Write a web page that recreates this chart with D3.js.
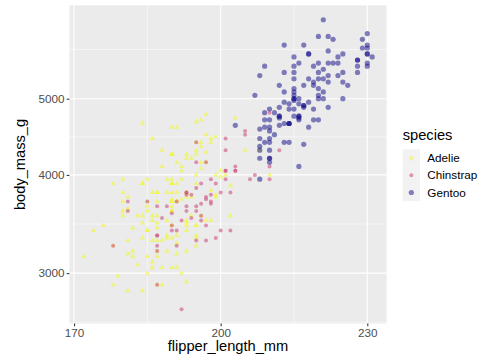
<!DOCTYPE html>
<html><head><meta charset="utf-8">
<script src="https://cdn.jsdelivr.net/npm/d3@7"></script>
<style>body{margin:0;background:#fff}svg{display:block}text{font-family:"Liberation Sans",Arial,Helvetica,sans-serif}</style>
</head><body><svg id="c" width="504" height="360"></svg>
<script>
const species = ["Adelie","Chinstrap","Gentoo"];
const adelieFlipper = [181,186,195,193,190,181,195,193,190,186,180,182,191,198,185,195,197,184,194,174,180,189,185,180,187,183,187,172,180,178,178,188,184,195,196,190,180,181,184,182,195,186,196,185,190,182,179,190,191,186,188,190,200,187,191,186,193,181,194,185,195,185,192,184,192,195,188,190,198,190,190,196,197,190,195,191,184,187,195,189,196,187,193,191,194,190,189,189,190,202,205,185,186,187,208,190,196,178,192,192,203,183,190,193,184,199,190,181,197,198,191,193,197,191,196,188,199,189,189,187,198,176,202,186,199,191,195,191,210,190,197,193,199,187,190,191,200,185,193,193,187,188,190,192,185,190,184,195,193,187,201];
const adelieMass = [3750,3800,3250,3450,3650,3625,4675,3475,4250,3300,3700,3200,3800,4400,3700,3450,4500,3325,4200,3400,3600,3800,3950,3800,3800,3550,3200,3150,3950,3250,3900,3300,3900,3325,4150,3950,3550,3300,4650,3150,3900,3100,4400,3000,4600,3425,2975,3450,4150,3500,4300,3450,4050,2900,3700,3550,3800,2850,3750,3150,4400,3600,4050,2850,3950,3350,4100,3050,4450,3600,3900,3550,4150,3700,4250,3700,3900,3550,4000,3200,4700,3800,4200,3350,3550,3800,3500,3950,3600,3550,4300,3400,4450,3300,4300,3700,4350,2900,4100,3725,4725,3075,4250,2925,3550,3750,3900,3175,4775,3825,4600,3200,4275,3900,4075,2900,3775,3350,3325,3150,3500,3450,3875,3050,4000,3275,4300,3050,4000,3325,3500,3500,4475,3425,3900,3175,3975,3400,4250,3400,3475,3050,3725,3000,3650,4250,3475,3450,3750,3700,4000];
const gentooFlipper = [211,230,210,218,215,210,211,219,209,215,214,216,214,213,210,217,210,221,209,222,218,215,213,215,215,215,216,215,210,220,222,209,207,230,220,220,213,219,208,208,208,225,210,216,222,217,210,225,213,215,210,220,210,225,217,220,208,220,208,224,208,221,214,231,219,230,214,229,220,223,216,221,221,217,216,230,209,220,215,223,212,221,212,224,212,228,218,218,212,230,218,228,212,224,214,226,216,222,203,225,219,228,215,228,216,215,210,219,208,209,216,229,213,230,217,230,217,222,214,215,222,212,213];
const gentooMass = [4500,5700,4450,5700,5400,4550,4800,5200,4400,5150,4650,5550,4650,5850,4200,5850,4150,6300,4800,5350,5700,5000,4400,5050,5000,5100,4100,5650,4600,5550,5250,4700,5050,6050,5150,5400,4950,5250,4350,5350,3950,5700,4300,4750,5550,4900,4200,5400,5100,5300,4850,5300,4400,5000,4900,5050,4300,5000,4450,5550,4200,5300,4400,5650,4700,5700,4650,5800,4700,5550,4750,5000,5100,5200,4700,5800,4600,6000,4750,5950,4625,5450,4725,5350,4750,5600,4600,5300,4875,5550,4950,5400,4750,5650,4850,5200,4925,4875,4625,5250,4850,5600,4975,5500,4725,5500,4700,5500,4575,5500,5000,5950,4650,5500,4375,5850,4875,6000,4925,4850,5750,5200,5400];
const chinstrapFlipper = [192,196,193,188,197,198,178,197,195,198,193,194,185,201,190,201,197,181,190,195,181,191,187,193,195,197,200,200,191,205,187,201,187,203,195,199,195,210,192,205,210,187,196,196,196,201,190,212,187,198,199,201,193,203,187,197,191,203,202,194,206,189,195,207,202,193,210,198];
const chinstrapMass = [3500,3900,3650,3525,3725,3950,3250,3750,4150,3700,3800,3775,3700,4050,3575,4050,3300,3700,3450,4400,3600,3400,2900,3800,3300,4150,3400,3800,3700,4550,3200,4300,3350,4100,3600,3900,3850,4800,2700,4500,3950,3650,3550,3500,3675,4450,3400,4300,3250,3675,3325,3950,3600,4050,3350,3450,3250,4050,3800,3525,3950,3650,3650,4000,3400,3775,4100,3775];
const xTicks = [170,200,230];
const yTicks = [3000,4000,5000];

const svg = d3.select("#c");
const P = {l:69.4, r:386.6, t:5.3, b:323.6};
const allF = adelieFlipper.concat(gentooFlipper, chinstrapFlipper);
const allM = adelieMass.concat(gentooMass, chinstrapMass);
const fx = d3.extent(allF), fm = d3.extent(allM).map(Math.log10);
const ex = (fx[1]-fx[0])*0.05, em = (fm[1]-fm[0])*0.05;
const x = d3.scaleLinear().domain([fx[0]-ex, fx[1]+ex]).range([P.l, P.r]);
const y = d3.scaleLog().domain([Math.pow(10,fm[0]-em), Math.pow(10,fm[1]+em)]).range([P.b, P.t]);

svg.append("rect").attr("x",P.l).attr("y",P.t).attr("width",P.r-P.l).attr("height",P.b-P.t).attr("fill","#EBEBEB");
const xMinor = [185,215];
const ly = yTicks.map(Math.log10);
const yMinor = [ (ly[0]+(ly[0]-(ly[1]-ly[0])))/2, (ly[0]+ly[1])/2, (ly[1]+ly[2])/2, (ly[2]+(ly[2]+(ly[1]-ly[0])))/2 ].map(v=>Math.pow(10,v)).filter(v=>y(v)>=P.t && y(v)<=P.b);
const g = svg.append("g");
xMinor.forEach(v=>g.append("line").attr("x1",x(v)).attr("x2",x(v)).attr("y1",P.t).attr("y2",P.b).attr("stroke","#fff").attr("stroke-width",0.53));
yMinor.forEach(v=>g.append("line").attr("y1",y(v)).attr("y2",y(v)).attr("x1",P.l).attr("x2",P.r).attr("stroke","#fff").attr("stroke-width",0.53));
xTicks.forEach(v=>g.append("line").attr("x1",x(v)).attr("x2",x(v)).attr("y1",P.t).attr("y2",P.b).attr("stroke","#fff").attr("stroke-width",1.07));
yTicks.forEach(v=>g.append("line").attr("y1",y(v)).attr("y2",y(v)).attr("x1",P.l).attr("x2",P.r).attr("stroke","#fff").attr("stroke-width",1.07));

const xAxis = svg.append("g").attr("transform",`translate(0,${P.b})`).call(d3.axisBottom(x).tickValues(xTicks).tickSize(2.74).tickPadding(2.2).tickFormat(d3.format("d")));
const yAxis = svg.append("g").attr("transform",`translate(${P.l},0)`).call(d3.axisLeft(y).tickValues(yTicks).tickSize(2.74).tickPadding(2.2).tickFormat(d3.format("d")));
[xAxis,yAxis].forEach(a=>{a.select(".domain").remove();a.selectAll(".tick line").attr("stroke","#333333").attr("stroke-width",1.07);a.selectAll(".tick text").attr("fill","#4D4D4D").attr("font-size","11.7px").attr("font-family","Liberation Sans, Arial, sans-serif");});

const colors = {Adelie:"#F0F921", Chinstrap:"#CC4678", Gentoo:"#0D0887"};
const alpha = 0.55;
const rad = {Chinstrap:2.0, Gentoo:2.6};
const tri = d3.symbol().type(d3.symbolTriangle).size(12);
const pts = svg.append("g");
adelieFlipper.forEach((f,i)=>pts.append("path").attr("d",tri()).attr("transform",`translate(${x(f)},${y(adelieMass[i])})`).attr("fill",colors.Adelie).attr("fill-opacity",alpha));
gentooFlipper.forEach((f,i)=>pts.append("circle").attr("cx",x(f)).attr("cy",y(gentooMass[i])).attr("r",rad.Gentoo).attr("fill",colors.Gentoo).attr("fill-opacity",0.5));
chinstrapFlipper.forEach((f,i)=>pts.append("circle").attr("cx",x(f)).attr("cy",y(chinstrapMass[i])).attr("r",rad.Chinstrap).attr("fill",colors.Chinstrap).attr("fill-opacity",alpha));

svg.append("text").attr("x",(P.l+P.r)/2).attr("y",351).attr("text-anchor","middle").attr("font-size","14.67px").attr("fill","#000").text("flipper_length_mm");
svg.append("text").attr("transform",`translate(24.5,${(P.t+P.b)/2}) rotate(-90)`).attr("text-anchor","middle").attr("font-size","14.67px").attr("fill","#000").text("body_mass_g");

const L = svg.append("g");
L.append("text").attr("x",402.7).attr("y",140).attr("font-size","14.67px").attr("fill","#000").text("species");
species.forEach((s,i)=>{
  const ky = 149.3 + i*17.28;
  L.append("rect").attr("x",402.7).attr("y",ky).attr("width",17.28).attr("height",17.28).attr("fill","#F2F2F2");
  const cx = 402.7+8.64, cy = ky+8.64;
  if(s==="Adelie") L.append("path").attr("d",tri()).attr("transform",`translate(${cx},${cy})`).attr("fill",colors[s]).attr("fill-opacity",alpha);
  else L.append("circle").attr("cx",cx).attr("cy",cy).attr("r",rad[s]).attr("fill",colors[s]).attr("fill-opacity",s==="Gentoo"?0.5:alpha);
  L.append("text").attr("x",427.3).attr("y",cy).attr("dy","0.35em").attr("font-size","11.7px").attr("fill","#000").text(s);
});
</script></body></html>
